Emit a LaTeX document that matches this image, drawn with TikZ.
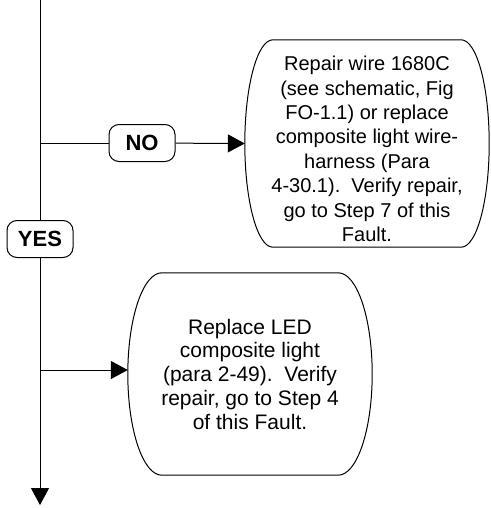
\documentclass[tikz,border=0pt]{standalone}
\usepackage{fontspec}
\setmainfont{Liberation Sans}
\usetikzlibrary{arrows.meta,calc}

\tikzset{
    answer/.style={draw, line width=1pt, rounded corners=10pt, minimum width=66pt,
        minimum height=37pt, inner sep=0pt, font=\fontsize{22}{25}\selectfont\bfseries},
    action/.style={align=center, inner sep=0pt, minimum width=244pt},
    flow/.style={line width=1pt},
    arrowflow/.style={flow, -{Triangle[length=17pt,width=18pt]}}
}

% outline with bulging sides: #1 node name, #2 bulge
\newcommand{\barrel}[2]{%
    \draw[flow] let \p1=(#1.north west), \p2=(#1.south east), \n1={(\y1-\y2)/2} in
        (\x1+#2,\y1) -- (\x2-#2,\y1)
        arc[start angle=90, end angle=-90, x radius=#2, y radius=\n1]
        -- (\x1+#2,\y2)
        arc[start angle=270, end angle=90, x radius=#2, y radius=\n1] -- cycle;
}

\begin{document}
\begin{tikzpicture}[x=1pt, y=-1pt]
    \useasboundingbox (0,0) rectangle (490,508);

    % Main line
    \coordinate (top) at (40,0);
    \coordinate (noTap) at (40,143);
    \coordinate (ledTap) at (40,370);
    \coordinate (bottom) at (40,505);

    % Answers
    \node[answer] (no) at (142,143) {NO};
    \node[answer] (yes) at (40,239) {YES};

    % Actions
    \node[action, minimum height=207pt, font=\fontsize{20}{24.4}\selectfont] (repair) at (367,143.5)
        {\rule{0pt}{25.3pt}Repair wire 1680C\\(see schematic, Fig\\FO-1.1) or replace\\composite light wire-\\harness (Para\\4-30.1).\ \ Verify repair,\\go to Step 7 of this\\Fault.};
    \barrel{repair}{28pt}

    \node[action, minimum height=202pt, font=\fontsize{21}{23.75}\selectfont] (replace) at (250,374)
        {Replace LED\\composite light\\(para 2-49).\ \ Verify\\repair, go to Step 4\\of this Fault.};
    \barrel{replace}{34pt}

    % Connectors
    \draw[flow] (top) -- (yes);
    \draw[arrowflow] (yes) -- (bottom);
    \draw[flow] (noTap) -- (no);
    \draw[arrowflow] (no) -- (repair.west);
    \draw[arrowflow] (ledTap) -- (ledTap -| replace.west);

\end{tikzpicture}
\end{document}
